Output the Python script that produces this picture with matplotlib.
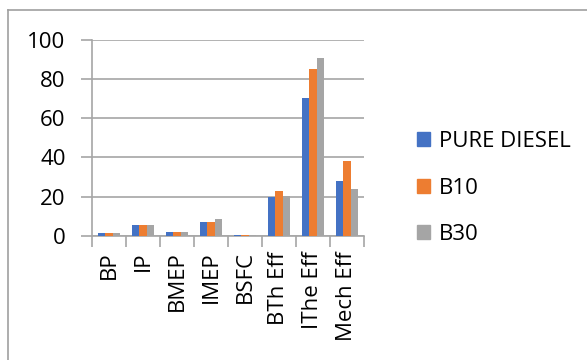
import numpy as np
import matplotlib.pyplot as plt
from matplotlib.patches import Patch
from matplotlib.lines import Line2D

plt.rcParams['font.family'] = ['Open Sans', 'DejaVu Sans']
plt.rcParams['text.color'] = 'black'

params = ['BP', 'IP', 'BMEP', 'IMEP', 'BSFC', 'BTh Eff', 'IThe Eff', 'Mech Eff']
pure_diesel = [1.5, 5.6, 2.0, 7.1, 0.3, 19.9, 70.1, 28.0]
b10 = [1.5, 5.6, 2.0, 7.1, 0.3, 23.1, 84.9, 38.0]
b30 = [1.5, 5.6, 2.0, 8.5, 0.3, 20.4, 90.5, 23.8]

series = ['PURE DIESEL', 'B10', 'B30']
colors = ['#4472C4', '#ED7D31', '#A5A5A5']

fig = plt.figure(figsize=(5.87, 3.6), dpi=100)
ax = fig.add_axes([92/587, 1-236/360, 272/587, 196.3/360])

x = np.arange(len(params))
w = 0.22
for i, (vals, c) in enumerate(zip([pure_diesel, b10, b30], colors)):
    ax.bar(x + (i-1)*w, vals, w, color=c, zorder=3)

grid_c = '#A6A6A6'
ax.set_ylim(0, 100)
ax.set_xlim(-0.5, len(params)-0.5)
ax.set_yticks(range(0, 101, 20))
ax.yaxis.grid(True, color=grid_c, linewidth=1.2, zorder=0)
ax.tick_params(axis='y', length=8, color=grid_c, width=1.2, labelsize=16,
               labelcolor='black', pad=11)

ax.set_xticks(x)
ax.set_xticklabels(params, rotation=90, fontsize=16, color='black')
ax.tick_params(axis='x', length=0, pad=11)
ax.set_xticks(np.arange(-0.5, len(params), 1), minor=True)
ax.tick_params(axis='x', which='minor', length=8, color=grid_c, width=1.2)

for s in ['top', 'right']:
    ax.spines[s].set_visible(False)
for s in ['left', 'bottom']:
    ax.spines[s].set_color(grid_c)
    ax.spines[s].set_linewidth(1.2)

handles = [Patch(color=c) for c in colors]
fig.legend(handles, series, loc='center left', bbox_to_anchor=(406/587, 1-188/360),
           frameon=False, fontsize=16, handlelength=0.6, handleheight=0.6,
           handletextpad=0.4, labelspacing=1.15, borderpad=0)

# outer chart frame
fig.add_artist(Line2D([8/587, 8/587], [0, 1-10/360], color='#A0A0A0', lw=1.2))
fig.add_artist(Line2D([8/587, 1], [1-10/360, 1-10/360], color='#A0A0A0', lw=1.2))

fig.savefig('out.png', dpi=100)
